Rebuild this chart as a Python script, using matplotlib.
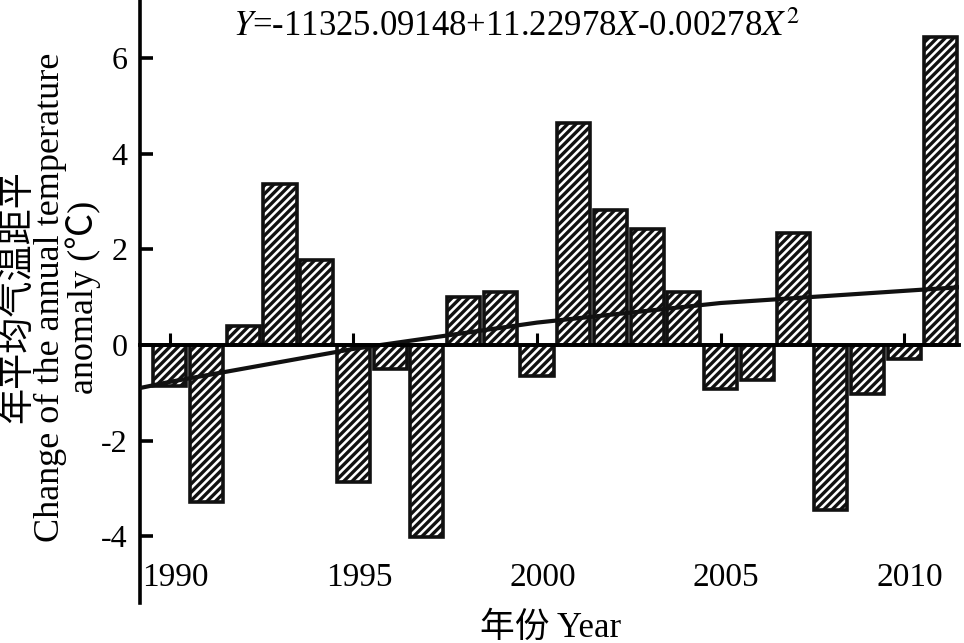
import matplotlib
matplotlib.use('Agg')
import matplotlib.pyplot as plt

# annual temperature anomaly
years = list(range(1990, 2012))
anomaly = [-0.85, -3.28, 0.40, 3.37, 1.78, -2.86, -0.51, -4.01, 1.01, 1.11,
           -0.65, 4.65, 2.83, 2.43, 1.12, -0.92, -0.73, 2.35, -3.45, -1.03,
           -0.29, 6.45]

# trend curve points
trend_x = [1989.18, 1990, 1995, 2000, 2005, 2011.5]
trend_y = [-0.90, -0.77, -0.08, 0.47, 0.88, 1.21]

xticks = [1990, 1995, 2000, 2005, 2010]
yticks = [-4, -2, 0, 2, 4, 6]

plt.rcParams['font.family'] = ['Liberation Serif', 'Noto Sans CJK SC']
plt.rcParams['mathtext.fontset'] = 'stix'
plt.rcParams['axes.unicode_minus'] = False
plt.rcParams['hatch.linewidth'] = 2.4

fig = plt.figure(figsize=(9.64, 6.43), dpi=100)
ax = fig.add_axes([0.145, 0.062, 0.85, 0.938])

ax.bar(years, anomaly, width=0.9, color='white', edgecolor='#111111',
       hatch='////', linewidth=2.6, zorder=2)
ax.plot(trend_x, trend_y, color='#111111', linewidth=3.0, zorder=3)

ax.set_xlim(1989.18, 2011.5)
ax.set_ylim(-5.4, 7.22)

for s in ['top', 'right']:
    ax.spines[s].set_visible(False)
ax.spines['bottom'].set_position(('data', 0))
ax.spines['bottom'].set_linewidth(2.8)
ax.spines['left'].set_linewidth(2.6)
ax.spines['bottom'].set_zorder(4)

ax.set_xticks(xticks)
ax.set_xticklabels([])
ax.tick_params(axis='x', direction='in', length=9, width=2.2)
for yr in xticks:
    ax.text(yr + 0.15, -4.87, str(yr), ha='center', va='center', fontsize=24)

ax.set_yticks(yticks)
ax.set_yticklabels([str(v) for v in yticks], fontsize=23)
ax.tick_params(axis='y', direction='in', length=9, width=2.6, pad=9)

fig.text(51 / 964, 1 - 297 / 643,
         '年平均气温距平\nChange of the annual temperature\nanomaly (℃)',
         rotation=90, ha='center', va='center', multialignment='center',
         fontsize=26, linespacing=0.95)
fig.text(551 / 964, 1 - 628 / 643, '年份 Year', ha='center', va='center',
         fontsize=25)
fig.text(517 / 964, 1 - 27 / 643,
         r'$Y$=-11325.09148+11.22978$X$-0.00278$X^{2}$',
         ha='center', va='center', fontsize=25)

fig.savefig('out.png', dpi=100)
